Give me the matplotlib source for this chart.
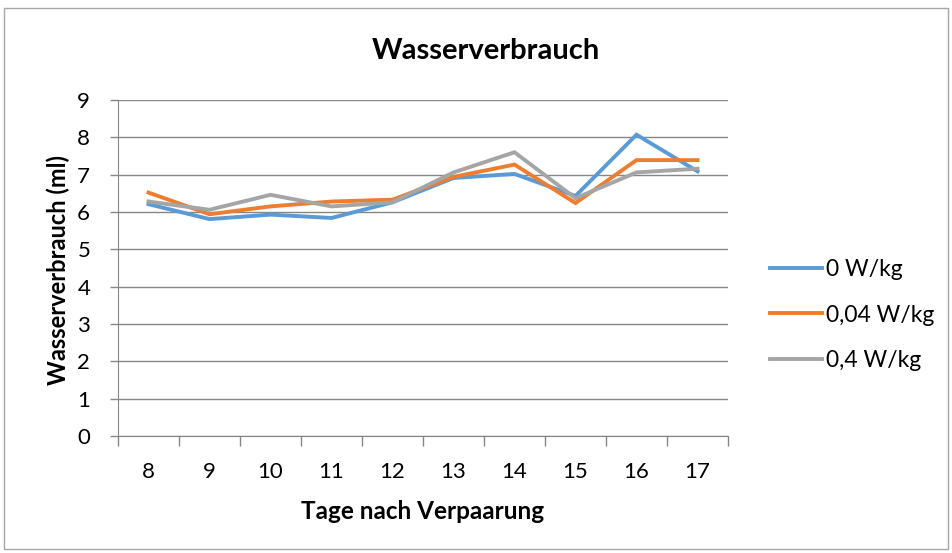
import matplotlib
matplotlib.use("Agg")
from matplotlib import pyplot as plt
from matplotlib.patches import Rectangle

plt.rcParams["font.family"] = ["Lato", "DejaVu Sans"]

# data
days = [8, 9, 10, 11, 12, 13, 14, 15, 16, 17]
w0 = [6.21, 5.81, 5.93, 5.84, 6.26, 6.91, 7.02, 6.43, 8.07, 7.09]
w004 = [6.52, 5.94, 6.15, 6.28, 6.33, 6.94, 7.27, 6.24, 7.39, 7.39]
w04 = [6.28, 6.06, 6.46, 6.15, 6.26, 7.06, 7.60, 6.37, 7.06, 7.16]
labels = ["0 W/kg", "0,04 W/kg", "0,4 W/kg"]
colors = ["#5B9BD5", "#ED7D31", "#A5A5A5"]

fig = plt.figure(figsize=(9.52, 5.53), dpi=100)
ax = fig.add_axes([118 / 952, 1 - 436 / 553, 610 / 952, 336 / 553])

for ys, lab, c in zip([w0, w004, w04], labels, colors):
    ax.plot(days, ys, color=c, lw=2.8, label=lab, solid_joinstyle="miter")

ax.set_xlim(7.5, 17.5)
ax.set_ylim(0, 9)
ax.set_yticks(range(0, 10))
ax.set_xticks([d - 0.5 for d in days] + [17.5])
ax.set_xticklabels([])
ax.set_xticks(days, minor=True)
ax.set_xticklabels([str(d) for d in days], minor=True)
ax.tick_params(axis="x", which="major", length=7, color="#868686", width=1)
ax.tick_params(axis="x", which="minor", length=0, pad=19, labelsize=16)
ax.tick_params(axis="y", length=6, color="#868686", width=1, labelsize=16, pad=14)

ax.grid(axis="y", color="#868686", lw=1)
ax.set_axisbelow(True)
for s in ["top", "right"]:
    ax.spines[s].set_visible(False)
for s in ["left", "bottom"]:
    ax.spines[s].set_color("#868686")

# titles placed in figure pixels like the Excel original
fig.text(486 / 952, 1 - 59 / 553, "Wasserverbrauch", fontsize=21,
         fontweight="bold", ha="center", va="baseline")
fig.text(423 / 952, 1 - 519 / 553, "Tage nach Verpaarung", fontsize=17.5,
         fontweight="bold", ha="center", va="baseline")
fig.text(66 / 952, 1 - 270 / 553, "Wasserverbrauch (ml)", fontsize=17,
         fontweight="bold", ha="center", va="baseline", rotation=90,
         rotation_mode="anchor")

fig.legend(loc="center left", bbox_to_anchor=(770 / 952, 1 - 315 / 553),
           frameon=False, fontsize=16.5, handlelength=2.26, handletextpad=0.17,
           labelspacing=1.07, borderpad=0, borderaxespad=0)

fig.patches.append(Rectangle((4 / 952, 4 / 553), 944 / 952, 541 / 553,
                             transform=fig.transFigure, fill=False,
                             edgecolor="#A6A6A6", lw=1))

fig.savefig("out.png", dpi=100)
